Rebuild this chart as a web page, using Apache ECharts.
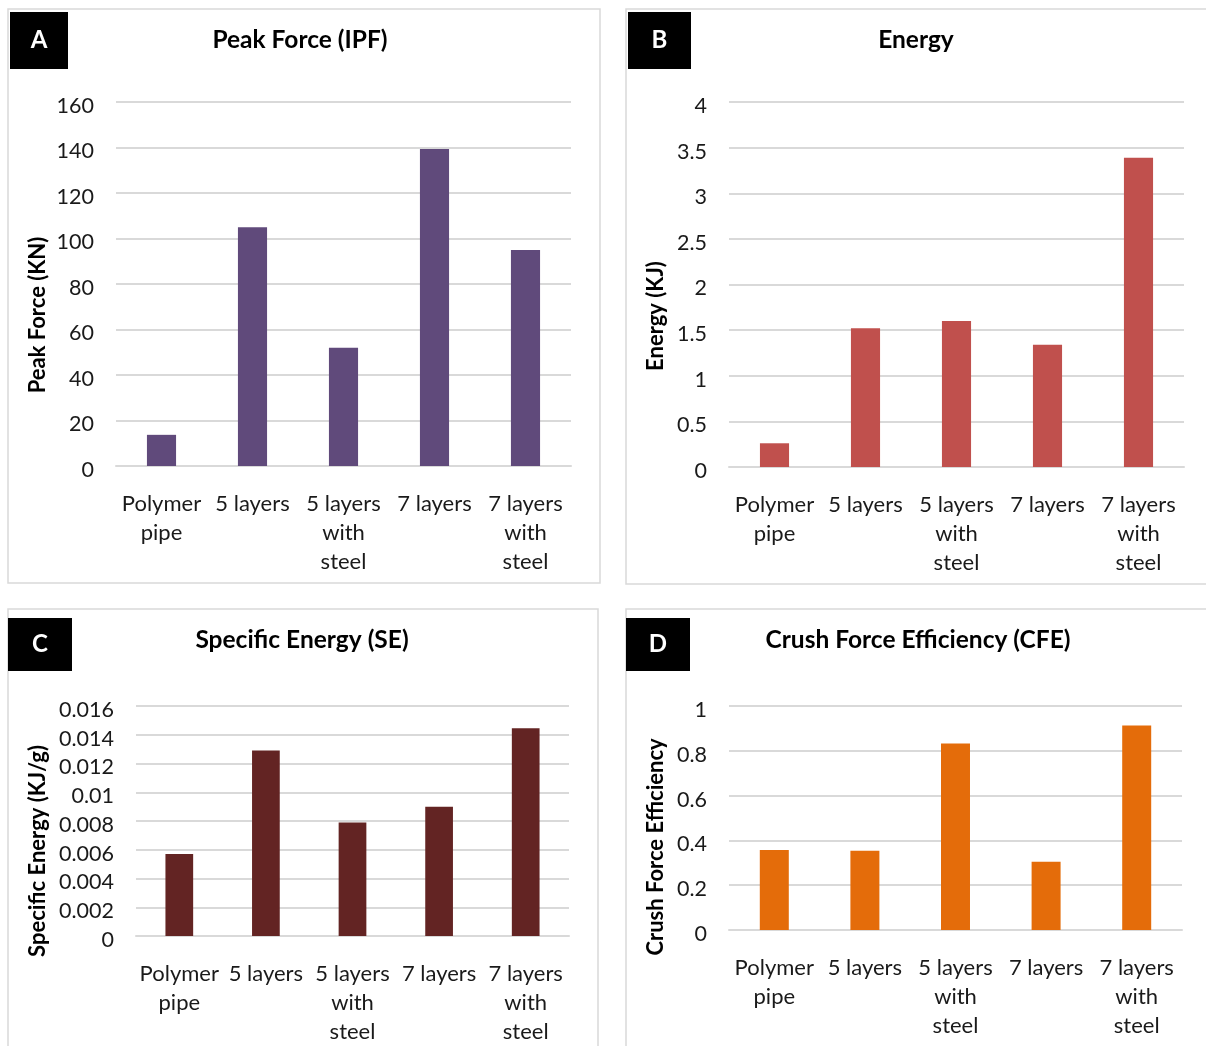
<!DOCTYPE html>
<html><head><meta charset="utf-8">
<style>html,body{margin:0;padding:0;background:#fff}#c{width:1206px;height:1046px}</style>
<script src="https://cdn.jsdelivr.net/npm/echarts@6/dist/echarts.min.js"></script>
</head><body><div id="c"></div>
<script>
const categories = ["Polymer\npipe", "5 layers", "5 layers\nwith\nsteel", "7 layers", "7 layers\nwith\nsteel"];
const peakForce = [13.7, 105, 52, 139.3, 95];
const energy = [0.26, 1.52, 1.6, 1.34, 3.39];
const specificEnergy = [0.0057, 0.0129, 0.0079, 0.009, 0.01445];
const cfe = [0.357, 0.354, 0.833, 0.305, 0.913];
const panelTitles = ["Peak Force (IPF)", "Energy", "Specific Energy (SE)", "Crush Force Efficiency (CFE)"];
const axisTitles = ["Peak Force (KN)", "Energy (KJ)", "Specific Energy (KJ/g)", "Crush Force Efficiency"];
const panelLetters = ["A", "B", "C", "D"];

const FONT = 'Lato, "Open Sans", sans-serif';
const colors = ['#604A7B', '#C0504D', '#632423', '#E46C0A'];
const grids = [
  {left:116, top:102, width:455, height:364},
  {left:729, top:102, width:455, height:365},
  {left:136, top:706, width:433, height:230},
  {left:729, top:706, width:453, height:224}
];
const yCfg = [
  {min:0, max:160, interval:20, fmt:v=>String(v)},
  {min:0, max:4, interval:0.5, fmt:v=>String(+v.toFixed(1))},
  {min:0, max:0.016, interval:0.002, fmt:v=>String(+v.toFixed(3))},
  {min:0, max:1, interval:0.2, fmt:v=>String(+v.toFixed(1))}
];
const data = [peakForce, energy, specificEnergy, cfe];
const titlePos = [[300,40],[916,40],[302,640],[918,640]];
const axisTitlePos = [[38,315],[656,316],[38,851],[656,847]];
const borders = [[8,9,592,574],[626,9,592,575],[8,609,590,450],[626,609,592,450]];
const boxes = [[10,12,58,57],[628,12,63,57],[8,618,64,53],[626,618,64,53]];

const graphic = [];
borders.forEach(b=>graphic.push({type:'rect',shape:{x:b[0],y:b[1],width:b[2],height:b[3]},style:{fill:'none',stroke:'#D9D9D9',lineWidth:1.5},z:0}));
boxes.forEach((b,i)=>{
  graphic.push({type:'rect',shape:{x:b[0],y:b[1],width:b[2],height:b[3]},style:{fill:'#000'},z:1});
  graphic.push({type:'text',x:b[0]+b[2]/2,y:b[1]+b[3]/2,style:{text:panelLetters[i],fill:'#fff',font:'bold 24px '+FONT,textAlign:'center',textVerticalAlign:'middle'},z:2});
});
axisTitlePos.forEach((p,i)=>graphic.push({type:'text',x:p[0],y:p[1],rotation:Math.PI/2,style:{text:axisTitles[i],fill:'#000',font:'bold 22px '+FONT,textAlign:'center',textVerticalAlign:'middle'},z:2}));
panelTitles.forEach((t,i)=>graphic.push({type:'text',x:titlePos[i][0],y:titlePos[i][1],style:{text:t,fill:'#000',font:'bold 24.5px '+FONT,textAlign:'center',textVerticalAlign:'middle'},z:2}));

const option = {
  animation:false,
  textStyle:{fontFamily:FONT},
  graphic: graphic,
  grid: grids.map(g=>Object.assign({containLabel:false},g)),
  xAxis: grids.map((g,i)=>({type:'category',gridIndex:i,data:categories,
    axisLine:{show:true,lineStyle:{color:'#D9D9D9',width:2}},axisTick:{show:false},
    axisLabel:{interval:0,margin:23,fontSize:22,lineHeight:29,color:'#1a1a1a',fontFamily:FONT}})),
  yAxis: yCfg.map((c,i)=>({type:'value',gridIndex:i,min:c.min,max:c.max,interval:c.interval,
    axisLine:{show:false},axisTick:{show:false},
    splitLine:{lineStyle:{color:'#D9D9D9',width:2}},
    axisLabel:{formatter:c.fmt,fontSize:21.5,margin:22,verticalAlign:'top',lineHeight:8,color:'#1a1a1a',fontFamily:FONT}})),
  series: data.map((d,i)=>({type:'bar',xAxisIndex:i,yAxisIndex:i,data:d,barWidth:'32%',itemStyle:{color:colors[i]}}))
};
echarts.init(document.getElementById('c')).setOption(option);
</script></body></html>
